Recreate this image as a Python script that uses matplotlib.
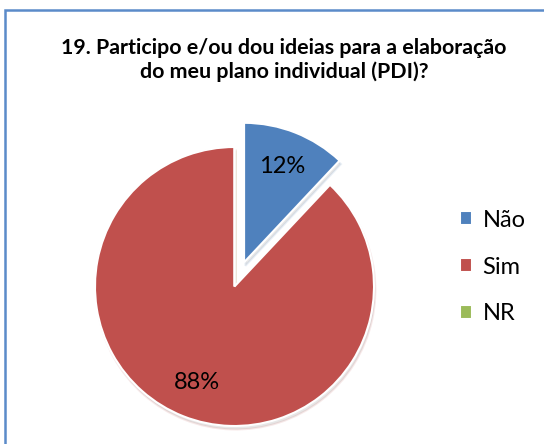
import matplotlib
matplotlib.use("Agg")
import matplotlib.pyplot as plt
from matplotlib.patches import Rectangle

categories = ["Não", "Sim", "NR"]
values = [12, 88, 0]
colors = ["#4F81BD", "#C0504D", "#9BBB59"]
title = "19. Participo e/ou dou ideias para a elaboração\ndo meu plano individual (PDI)?"

plt.rcParams['font.family'] = ['Lato', 'DejaVu Sans']

W, H = 544, 444
fig = plt.figure(figsize=(W / 100, H / 100), dpi=100)
ax = fig.add_axes([0, 0, 1, 1])

def fmt(p):
    return f"{p:.0f}%" if p > 0.5 else ""

wedges, texts, autotexts = ax.pie(
    values, colors=colors, startangle=90, counterclock=False,
    center=(234.5, H - 286.5), radius=139.5,
    explode=[26, 0, 0], autopct=fmt, pctdistance=0.74,
    wedgeprops=dict(edgecolor="white", linewidth=1.5),
    textprops=dict(fontsize=17, color="black"),
    shadow=dict(ox=1.0, oy=-2.5, shade=0.0, alpha=0.12, facecolor="#404040"),
    frame=True,
)
ax.set_xlim(0, W)
ax.set_ylim(0, H)
ax.set_aspect('equal')
ax.axis('off')

# chart border
ax.add_patch(Rectangle((4.5, -20), 600, H - 10.5 + 20, fill=False,
                       edgecolor="#5B8BC9", linewidth=1.8, clip_on=False))

fig.text(284 / W, 1 - 60 / H, title, ha='center', va='center',
         fontsize=15.4, fontweight='bold', linespacing=1.2)

leg = fig.legend(wedges, categories, loc='center left',
                 bbox_to_anchor=(439 / W, 1 - 267 / H), frameon=False,
                 fontsize=17, labelspacing=1.1, handlelength=0.5,
                 handleheight=0.5, handletextpad=0.45)

fig.savefig("out.png", dpi=100)
